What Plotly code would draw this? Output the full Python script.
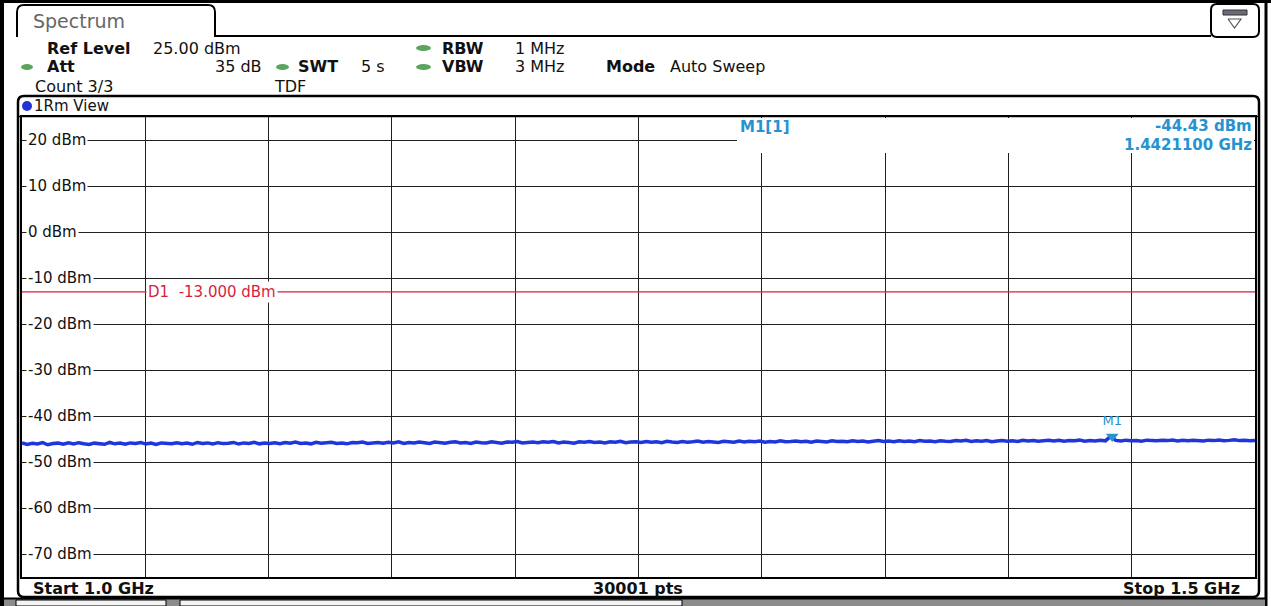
import numpy as np
import plotly.graph_objects as go

# ---------------- data ----------------
start_ghz = 1.0
stop_ghz = 1.5
ref_level = 25.0
bottom_level = -75.0
y_ticks = [20, 10, 0, -10, -20, -30, -40, -50, -60, -70]
y_tick_labels = [f"{v} dBm" for v in y_ticks]
display_line_d1 = -13.0
marker_freq_ghz = 1.44211
marker_level_dbm = -44.43
n_points = 30001

trace_levels = [
    -45.85, -46.20, -45.95, -46.10, -45.80, -46.25, -46.00, -45.90, -46.15, -45.85,
    -46.10, -45.80, -46.05, -46.20, -45.90, -45.95, -46.15, -45.75, -46.05, -45.90,
    -46.15, -45.85, -45.95, -45.75, -46.10, -45.90, -46.20, -45.85, -45.95, -46.05,
    -45.80, -46.05, -45.90, -46.15, -45.75, -45.95, -45.85, -46.10, -45.80, -46.00,
    -45.90, -45.75, -46.10, -45.85, -45.95, -45.70, -46.05, -45.85, -45.95, -45.80,
    -46.00, -45.75, -45.90, -45.65, -45.95, -45.85, -46.05, -45.70, -45.90, -45.80,
    -45.70, -45.95, -45.85, -46.05, -45.75, -45.80, -45.65, -45.95, -45.85, -45.75,
    -45.90, -45.70, -45.85, -45.60, -45.95, -45.75, -45.85, -45.65, -45.80, -45.95,
    -45.65, -45.80, -45.90, -45.70, -45.60, -45.85, -45.75, -45.95, -45.65, -45.80,
    -45.85, -45.60, -45.75, -45.90, -45.65, -45.70, -45.55, -45.85, -45.75, -45.65,
    -45.80, -45.60, -45.70, -45.55, -45.85, -45.65, -45.75, -45.90, -45.60, -45.70,
    -45.55, -45.75, -45.65, -45.85, -45.60, -45.70, -45.50, -45.80, -45.65, -45.60,
    -45.75, -45.55, -45.70, -45.60, -45.80, -45.50, -45.65, -45.75, -45.55, -45.70,
    -45.60, -45.45, -45.70, -45.55, -45.65, -45.75, -45.50, -45.60, -45.70, -45.45,
    -45.65, -45.50, -45.60, -45.45, -45.70, -45.55, -45.65, -45.40, -45.60, -45.55,
    -45.45, -45.60, -45.50, -45.70, -45.45, -45.55, -45.65, -45.40, -45.55, -45.50,
    -45.60, -45.40, -45.55, -45.45, -45.65, -45.50, -45.35, -45.55, -45.45, -45.60,
    -45.40, -45.55, -45.45, -45.60, -45.35, -45.50, -45.45, -45.60, -45.40, -45.50,
    -45.55, -45.35, -45.45, -45.30, -45.55, -45.40, -45.50, -45.35, -45.60, -45.45,
    -45.35, -45.50, -45.40, -45.55, -45.30, -45.45, -45.35, -45.50, -45.40, -45.30,
    -45.45, -45.30, -45.50, -45.35, -45.40, -45.25, -45.50, -45.35, -45.45, -45.30,
    -45.40, -44.43, -45.30, -45.45, -45.25, -45.40, -45.35, -45.50, -45.25, -45.35,
    -45.40, -45.25, -45.35, -45.20, -45.45, -45.30, -45.40, -45.25, -45.35, -45.45,
    -45.25, -45.35, -45.20, -45.40, -45.30, -45.15, -45.35, -45.25, -45.40, -45.30,
]
trace_freqs = np.linspace(start_ghz, stop_ghz, len(trace_levels))

# ---------------- geometry helpers (pixel -> paper) ----------------
W, H = 1271, 606
L, R, T, B = 22, 1255, 117, 577


def X(p):
    return (p - L) / (R - L)


def Y(p):
    return (B - p) / (B - T)


FONT = "DejaVu Sans"
GRID = "#202020"
TRACE_BLUE = "#1f36dc"
MARK_BLUE = "#2592d2"
RED = "#d61f3c"
GREEN = "#5aa55e"

fig = go.Figure()

fig.add_trace(go.Scatter(
    x=[start_ghz, stop_ghz], y=[display_line_d1, display_line_d1],
    mode="lines", line=dict(color=RED, width=1.2), hoverinfo="skip",
))
fig.add_trace(go.Scatter(
    x=trace_freqs, y=trace_levels, mode="lines",
    line=dict(color=TRACE_BLUE, width=3.5), hoverinfo="skip",
))
fig.add_trace(go.Scatter(
    x=[marker_freq_ghz], y=[marker_level_dbm], mode="markers+text",
    marker=dict(symbol="triangle-down", size=11, color=MARK_BLUE),
    text=["M1"], textposition="top center",
    textfont=dict(family=FONT, size=13, color=MARK_BLUE),
    hoverinfo="skip",
))

shapes = []


def line(x0, y0, x1, y1, color="black", width=1.5):
    shapes.append(dict(type="line", xref="paper", yref="paper",
                       x0=X(x0), y0=Y(y0), x1=X(x1), y1=Y(y1),
                       line=dict(color=color, width=width), layer="above"))


def rect(x0, y0, x1, y1, fill=None, color="black", width=0, layer="above"):
    shapes.append(dict(type="rect", xref="paper", yref="paper",
                       x0=X(x0), y0=Y(y1), x1=X(x1), y1=Y(y0),
                       fillcolor=fill if fill else "rgba(0,0,0,0)",
                       line=dict(color=color, width=width), layer=layer))


def ellipse(x0, y0, x1, y1, fill):
    shapes.append(dict(type="circle", xref="paper", yref="paper",
                       x0=X(x0), y0=Y(y1), x1=X(x1), y1=Y(y0),
                       fillcolor=fill, line=dict(color=fill, width=0), layer="above"))


def path(pts, color="black", width=1.5, fill=None):
    d = ""
    for cmd in pts:
        op = cmd[0]
        coords = cmd[1:]
        s = " ".join(f"{X(coords[i]):.6f},{Y(coords[i + 1]):.6f}" for i in range(0, len(coords), 2))
        d += f"{op} {s} "
    if fill:
        d += "Z"
    shapes.append(dict(type="path", xref="paper", yref="paper", path=d.strip(),
                       line=dict(color=color, width=width),
                       fillcolor=fill if fill else "rgba(0,0,0,0)", layer="above"))


# outer screen border
line(2, 0, 2, 606, width=4)
line(0, 1.5, 1271, 1.5, width=3)
line(1266, 0, 1266, 606, width=3)
# bottom tab strip
rect(4, 599, 1265, 606, fill="#8c8c8c")
rect(16, 600, 166, 606, fill="#f4f4f4", color="black", width=1)
rect(180, 600, 682, 606, fill="#f4f4f4", color="black", width=1)
line(4, 598.5, 1265, 598.5, width=2)

# Spectrum tab + header line
path([("M", 17, 37), ("L", 17, 12), ("Q", 17, 5, 24, 5), ("L", 208, 5),
      ("Q", 215, 5, 215, 12), ("L", 215, 36), ("L", 1211, 36)], width=2)
# top-right icon
path([("M", 1211, 10), ("Q", 1211, 4, 1217, 4), ("L", 1253, 4), ("Q", 1259, 4, 1259, 10),
      ("L", 1259, 31), ("Q", 1259, 37, 1253, 37), ("L", 1217, 37), ("Q", 1211, 37, 1211, 31),
      ("L", 1211, 10)], width=2)
rect(1223, 10, 1247, 15, fill="#6a6a78", color="#333", width=1)
path([("M", 1228, 19), ("L", 1241, 19), ("L", 1234.5, 28), ("L", 1228, 19)], color="#555", width=1.2)

# panel frame
path([("M", 18, 102), ("Q", 18, 96, 24, 96), ("L", 1253, 96), ("Q", 1259, 96, 1259, 102),
      ("L", 1259, 591), ("Q", 1259, 597, 1253, 597), ("L", 24, 597), ("Q", 18, 597, 18, 591),
      ("L", 18, 102)], width=2.5)
line(18, 116.5, 1259, 116.5, width=1.5)

# marker info box (covers grid)
rect(737, 118, 1254, 153, fill="white")

# indicator dots
ellipse(21, 64, 33, 70, GREEN)
ellipse(276, 64, 289, 70, GREEN)
ellipse(416, 45, 431, 51, GREEN)
ellipse(416, 64, 431, 70, GREEN)
ellipse(22, 101, 32, 111, "#2234d6")

annotations = []


def text(s, x, y, anchor="left", size=16, color="#111", bold=False, bg=None, pad=0, yref="paper"):
    a = dict(text=f"<b>{s}</b>" if bold else s, xref="paper", yref=yref,
             x=X(x), y=Y(y) if yref == "paper" else y,
             xanchor=anchor, yanchor="middle", showarrow=False,
             font=dict(family=FONT, size=size, color=color), borderpad=pad)
    if bg:
        a["bgcolor"] = bg
    annotations.append(a)


text("Spectrum", 32, 21, size=19, color="#666")
text("Ref Level", 46, 48, bold=True)
text("25.00 dBm", 152, 48)
text("Att", 46, 67, bold=True)
text("35 dB", 263, 67, anchor="right")
text("SWT", 297, 67, bold=True)
text("5 s", 360, 67)
text("RBW", 441, 48, bold=True)
text("1 MHz", 514, 48)
text("VBW", 441, 67, bold=True)
text("3 MHz", 514, 67)
text("Mode", 605, 67, bold=True)
text("Auto Sweep", 669, 67)
text("Count 3/3", 34, 86)
text("TDF", 273, 86)
text("1Rm View", 33, 106, size=15)

# y labels on grid lines
for v, lab in zip(y_ticks, y_tick_labels):
    text(lab, 26, v, size=15, color="#111", bg="white", pad=1, yref="y")

# D1 label
text(f"D1  {display_line_d1:.3f} dBm", 146, display_line_d1, size=15, color=RED,
     bg="white", pad=1, yref="y")

# marker info
text("M1[1]", 739, 127, size=15, color=MARK_BLUE, bold=True)
text(f"{marker_level_dbm:.2f} dBm", 1253, 126, anchor="right", size=15, color=MARK_BLUE, bold=True)
text(f"{marker_freq_ghz:.7f} GHz", 1253, 145, anchor="right", size=15, color=MARK_BLUE, bold=True)

# bottom bar
text(f"Start {start_ghz:.1f} GHz", 32, 588, bold=True)
text(f"{n_points} pts", 638, 588, anchor="center", bold=True)
text(f"Stop {stop_ghz:.1f} GHz", 1241, 588, anchor="right", bold=True)

fig.update_layout(
    width=W, height=H, autosize=False,
    margin=dict(l=L, r=W - R, t=T, b=H - B, pad=0),
    paper_bgcolor="white", plot_bgcolor="white",
    showlegend=False,
    shapes=shapes, annotations=annotations,
    xaxis=dict(range=[start_ghz, stop_ghz], dtick=0.05, tick0=start_ghz,
               showgrid=True, gridcolor=GRID, gridwidth=1.4,
               showticklabels=False, ticks="", zeroline=False,
               showline=True, linecolor="black", linewidth=1.5, mirror=True, fixedrange=True),
    yaxis=dict(range=[bottom_level, ref_level], dtick=10, tick0=0,
               showgrid=True, gridcolor=GRID, gridwidth=1.4,
               showticklabels=False, ticks="", zeroline=False,
               showline=True, linecolor="black", linewidth=1.5, mirror=True, fixedrange=True),
)

fig.write_html(
    "out.html",
    config={"displayModeBar": False},
    post_script="document.body.style.margin='0';document.body.style.padding='0';",
)
